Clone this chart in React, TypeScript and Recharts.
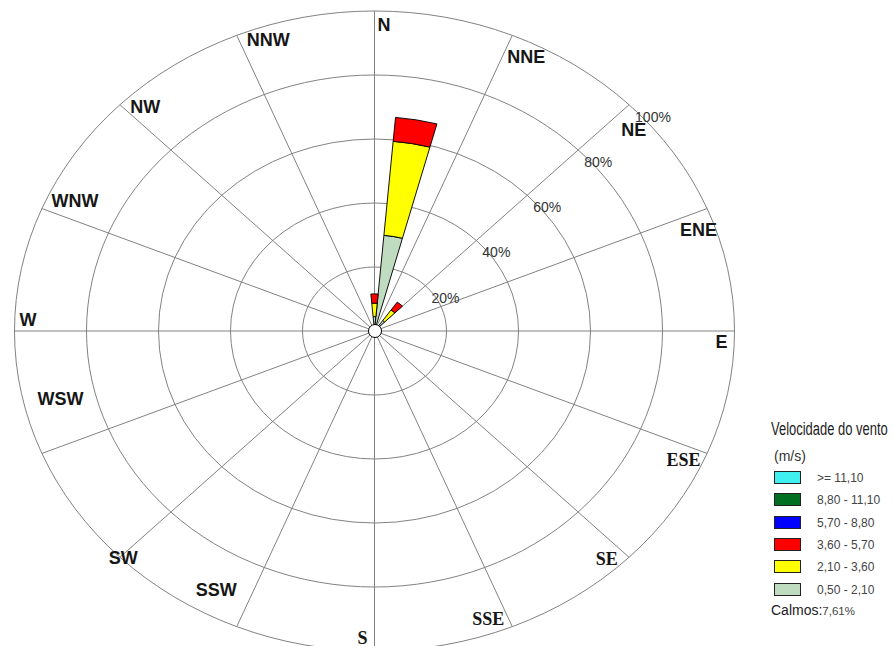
import React from 'react';
import {
  RadialBarChart,
  RadialBar,
  RadarChart,
  Radar,
  PolarAngleAxis,
  PolarRadiusAxis,
  PolarGrid,
  Cell,
} from 'recharts';

// ---- data ----
const DIRECTION_BINS = [0, 10, 20, 30, 40, 50, 60, 70, 80, 90, 100, 110, 120, 130, 140, 150, 160, 170, 180, 190, 200, 210, 220, 230, 240, 250, 260, 270, 280, 290, 300, 310, 320, 330, 340, 350];
const FREQ_050_210 = [4.5, 30, 0, 0, 4, 0, 0, 0, 0, 0, 0, 0, 0, 0, 0, 0, 0, 0, 0, 0, 0, 0, 0, 0, 0, 0, 0, 0, 0, 0, 0, 0, 0, 0, 0, 0];
const FREQ_210_360 = [4.2, 29.5, 0, 0, 4, 0, 0, 0, 0, 0, 0, 0, 0, 0, 0, 0, 0, 0, 0, 0, 0, 0, 0, 0, 0, 0, 0, 0, 0, 0, 0, 0, 0, 0, 0, 0];
const FREQ_360_570 = [2.9, 7.5, 0, 0, 3, 0, 0, 0, 0, 0, 0, 0, 0, 0, 0, 0, 0, 0, 0, 0, 0, 0, 0, 0, 0, 0, 0, 0, 0, 0, 0, 0, 0, 0, 0, 0];
const FREQ_570_880 = [0, 0, 0, 0, 0, 0, 0, 0, 0, 0, 0, 0, 0, 0, 0, 0, 0, 0, 0, 0, 0, 0, 0, 0, 0, 0, 0, 0, 0, 0, 0, 0, 0, 0, 0, 0];
const FREQ_880_1110 = [0, 0, 0, 0, 0, 0, 0, 0, 0, 0, 0, 0, 0, 0, 0, 0, 0, 0, 0, 0, 0, 0, 0, 0, 0, 0, 0, 0, 0, 0, 0, 0, 0, 0, 0, 0];
const FREQ_GE_1110 = [0, 0, 0, 0, 0, 0, 0, 0, 0, 0, 0, 0, 0, 0, 0, 0, 0, 0, 0, 0, 0, 0, 0, 0, 0, 0, 0, 0, 0, 0, 0, 0, 0, 0, 0, 0];

const SPEED_KEYS = ['s1', 's2', 's3', 's4', 's5', 's6'];
const SPEED_LABELS = ['0,50 - 2,10', '2,10 - 3,60', '3,60 - 5,70', '5,70 - 8,80', '8,80 - 11,10', '>= 11,10'];
const SPEED_SERIES = [FREQ_050_210, FREQ_210_360, FREQ_360_570, FREQ_570_880, FREQ_880_1110, FREQ_GE_1110];
const SPEED_COLORS = ['#c0dcc0', '#ffff00', '#ff0000', '#0000ff', '#007020', '#40f0f0'];

const COMPASS_LABELS = ['N', 'NNE', 'NE', 'ENE', 'E', 'ESE', 'SE', 'SSE', 'S', 'SSW', 'SW', 'WSW', 'W', 'WNW', 'NW', 'NNW'];
const RADIUS_DOMAIN = [0, 100];
const LEGEND_TITLE = 'Velocidade do vento';
const LEGEND_UNIT = '(m/s)';
const CALM_LABEL = 'Calmos:';
const CALM_VALUE = '7,61%';

// ---- layout / style ----
const SY = 320 / 360;
const CX = 374.5;
const CY = 331 / SY;
const CH = 740;
const R = 360;
const SANS = '"Liberation Sans", Arial, sans-serif';
const SERIF = '"Liberation Serif", "Times New Roman", serif';

const LABEL_STYLE: Record<string, { dx: number; dy: number; anchor: string; serif?: boolean }> = {
  N: { dx: 3, dy: 27, anchor: 'start' },
  NNE: { dx: -8, dy: 34, anchor: 'start' },
  NE: { dx: -1, dy: 36, anchor: 'middle' },
  ENE: { dx: -16, dy: 30, anchor: 'middle' },
  E: { dx: -15, dy: 17, anchor: 'end' },
  ESE: { dx: -14, dy: 10, anchor: 'end', serif: true },
  SE: { dx: -17, dy: 3, anchor: 'end', serif: true },
  SSE: { dx: -11, dy: -8, anchor: 'end', serif: true },
  S: { dx: -7, dy: -14, anchor: 'end', serif: true },
  SSW: { dx: 3, dy: -37, anchor: 'end' },
  SW: { dx: 9, dy: 2, anchor: 'middle' },
  WSW: { dx: 3, dy: -51, anchor: 'start' },
  W: { dx: 13, dy: -5, anchor: 'start' },
  WNW: { dx: 17, dy: 1, anchor: 'start' },
  NW: { dx: 16, dy: 13, anchor: 'start' },
  NNW: { dx: 13, dy: 17, anchor: 'start' },
};

const barData = DIRECTION_BINS.map((dir, i) => {
  const row: Record<string, number> = { dir };
  SPEED_KEYS.forEach((k, j) => {
    row[k] = SPEED_SERIES[j][i];
  });
  return row;
});

// compass frame: one row per direction (the invisible "base" series anchors the radius axis)
const compassData = COMPASS_LABELS.map((name) => ({ name, base: 0 }));

const CompassTick = (props: any) => {
  const { x, y, payload } = props;
  const name = payload?.value;
  const s = LABEL_STYLE[name];
  if (!s) return null;
  return (
    <g transform={`translate(${x},${y}) scale(1,${1 / SY})`}>
      <text
        x={s.dx}
        y={s.dy}
        textAnchor={s.anchor as any}
        fontSize={18}
        fontWeight="bold"
        fontFamily={s.serif ? SERIF : SANS}
        fill="#161616"
      >
        {name}
      </text>
    </g>
  );
};

const RadiusTick = (props: any) => {
  const { x, y, payload } = props;
  if (!payload || payload.value === 0) return null;
  return (
    <g transform={`translate(${x},${y}) scale(1,${1 / SY})`}>
      <text x={6} y={17} fontSize={14} fontFamily={SANS} fill="#333">
        {payload.value}%
      </text>
    </g>
  );
};

const layerStyle: React.CSSProperties = { position: 'absolute', left: 0, top: 0 };

export default function App() {
  return (
    <div
      style={{
        position: 'absolute',
        left: 0,
        top: 0,
        width: 894,
        height: 646,
        overflow: 'hidden',
        background: '#fff',
      }}
    >
      <div style={{ position: 'relative', width: 894, height: CH, transform: `scaleY(${SY})`, transformOrigin: '0 0' }}>
        {/* compass grid, direction labels and percentage rings */}
        <div style={layerStyle}>
          <RadarChart
            width={894}
            height={CH}
            data={compassData}
            cx={CX}
            cy={CY}
            innerRadius={0}
            outerRadius={R}
            startAngle={90}
            endAngle={-270}
            margin={{ top: 0, right: 0, bottom: 0, left: 0 }}
          >
            <PolarGrid gridType="circle" stroke="#7a7a7a" strokeWidth={1} />
            <PolarAngleAxis
              dataKey="name"
              tick={<CompassTick />}
              tickSize={0}
              axisLine={false}
              tickLine={false}
            />
            <PolarRadiusAxis
              type="number"
              domain={RADIUS_DOMAIN}
              tickCount={6}
              angle={45}
              axisLine={false}
              tickLine={false}
              tick={<RadiusTick />}
            />
            <Radar dataKey="base" stroke="none" fill="none" dot={false} isAnimationActive={false} />
          </RadarChart>
        </div>
        {/* wind frequency wedges */}
        <div style={layerStyle}>
          <RadialBarChart
            width={894}
            height={CH}
            data={barData}
            layout="centric"
            cx={CX}
            cy={CY}
            innerRadius={0}
            outerRadius={R}
            startAngle={85}
            endAngle={-275}
            barCategoryGap={0}
            margin={{ top: 0, right: 0, bottom: 0, left: 0 }}
          >
            <PolarAngleAxis dataKey="dir" type="category" tick={false} axisLine={false} tickLine={false} />
            <PolarRadiusAxis type="number" domain={RADIUS_DOMAIN} tick={false} axisLine={false} tickLine={false} />
            {SPEED_KEYS.map((k, j) => (
              <RadialBar
                key={k}
                dataKey={k}
                stackId="wind"
                fill={SPEED_COLORS[j]}
                stroke="#000"
                strokeWidth={1}
                isAnimationActive={false}
              >
                {barData.map((row, i) => (
                  <Cell key={i} fill={SPEED_COLORS[j]} stroke={row[k] > 0 ? '#000' : 'none'} />
                ))}
              </RadialBar>
            ))}
          </RadialBarChart>
        </div>
      </div>
      {/* calm circle at the centre */}
      <div
        style={{
          position: 'absolute',
          left: CX - 7,
          top: 331 - 7,
          width: 12,
          height: 12,
          borderRadius: '50%',
          background: '#fff',
          border: '1px solid #000',
        }}
      />
      {/* legend */}
      <div style={{ position: 'absolute', left: 0, top: 0, fontFamily: SANS }}>
        <div
          style={{
            position: 'absolute',
            left: 771,
            top: 418,
            fontSize: 18,
            lineHeight: '22px',
            color: '#222',
            whiteSpace: 'nowrap',
            transform: 'scaleX(0.72)',
            transformOrigin: '0 0',
          }}
        >
          {LEGEND_TITLE}
        </div>
        <div style={{ position: 'absolute', left: 774, top: 447, fontSize: 14, lineHeight: '18px', color: '#333', whiteSpace: 'nowrap' }}>
          {LEGEND_UNIT}
        </div>
        {SPEED_LABELS.slice()
          .reverse()
          .map((lab, r) => {
            const colorIdx = SPEED_LABELS.length - 1 - r;
            const top = 471 + r * 22.33;
            return (
              <React.Fragment key={lab}>
                <div
                  style={{
                    position: 'absolute',
                    left: 774,
                    top,
                    width: 25,
                    height: 11,
                    background: SPEED_COLORS[colorIdx],
                    border: '1px solid #222',
                  }}
                />
                <div
                  style={{
                    position: 'absolute',
                    left: 817,
                    top: top - 1,
                    fontSize: 12,
                    lineHeight: '16px',
                    color: '#444',
                    whiteSpace: 'nowrap',
                  }}
                >
                  {lab}
                </div>
              </React.Fragment>
            );
          })}
        <div style={{ position: 'absolute', left: 771, top: 601, whiteSpace: 'nowrap', color: '#222', lineHeight: '18px' }}>
          <span style={{ fontSize: 14 }}>{CALM_LABEL}</span>
          <span style={{ fontSize: 11.5, color: '#444' }}>{CALM_VALUE}</span>
        </div>
      </div>
    </div>
  );
}
